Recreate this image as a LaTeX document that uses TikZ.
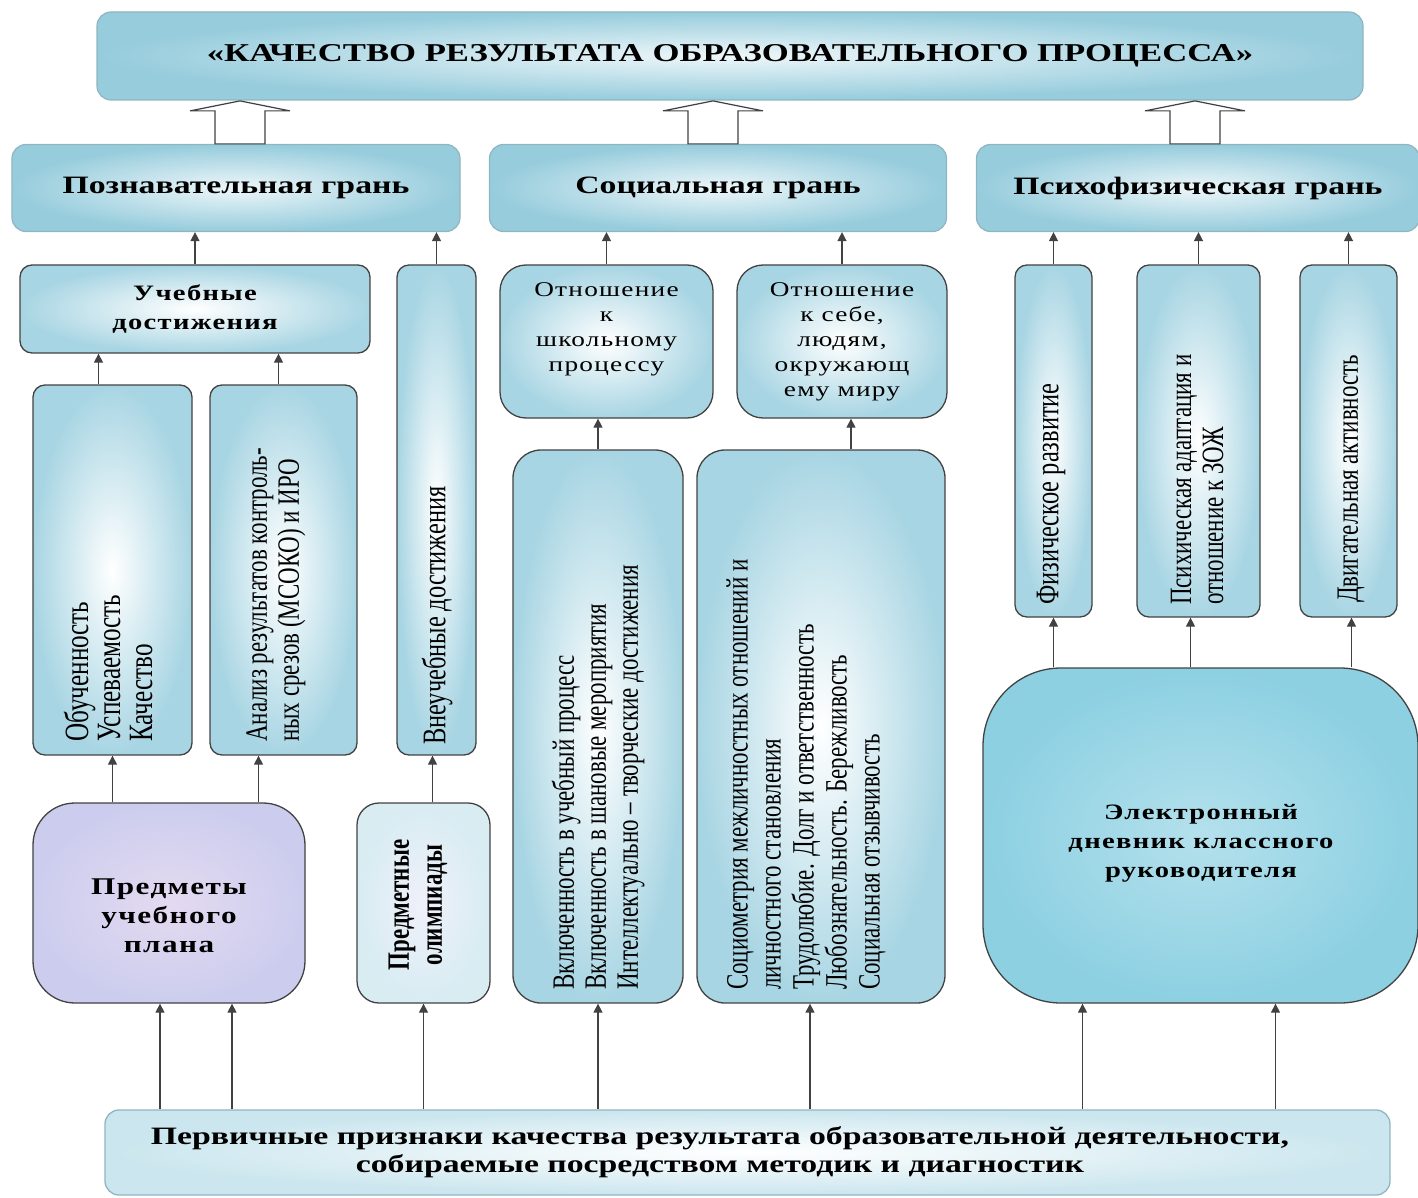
\documentclass[tikz,border=0pt]{standalone}
\usepackage{fontspec}
\setmainfont{Liberation Serif}
\newfontfamily\widerm{Liberation Serif}[FakeStretch=1.35]
\newfontfamily\spacedrm{Liberation Serif}[FakeStretch=1.3,LetterSpace=6]
\newfontfamily\narrowrm{Liberation Serif}[FakeStretch=0.74]
\usetikzlibrary{positioning, calc, arrows.meta, shadings}
\definecolor{edgeblue}{RGB}{168,213,227}
\definecolor{headblue}{RGB}{150,204,220}
\definecolor{framegray}{RGB}{66,66,66}
\definecolor{lilac}{RGB}{204,205,238}
\definecolor{pinkish}{RGB}{228,218,240}
\definecolor{drop}{RGB}{140,208,226}

\tikzset{holup/.pic={
	\draw[fill=white, draw=framegray, line width=1.2pt] (-25,0) -- (-25,-33) -- (-50,-33) -- (0,-43) -- (50,-33) -- (25,-33) -- (25,0) -- cycle;
}}

\begin{document}
\begin{tikzpicture}[x=1pt, y=-1pt,
	box/.style={draw=framegray, line width=1.3pt, rounded corners=12pt, inner color=white, outer color=edgeblue},
	head/.style={draw=headblue!70!gray, line width=1.2pt, rounded corners=14pt, inner color=white!80!edgeblue, outer color=headblue,
		font=\fontsize{25}{29}\widerm\bfseries},
	vtext/.style={rotate=90, anchor=west, align=left, inner sep=0pt, font=\fontsize{31}{32}\narrowrm},
	arr/.style={draw=framegray, line width=1.3pt, -{Triangle[length=9pt,width=9pt]}}]
	\useasboundingbox (0,0) rectangle (1418,1198);

	% top level
	\node[head, minimum width=1266pt, minimum height=88pt] (res) at (730,56) {\fontsize{25.7}{30}\selectfont «КАЧЕСТВО РЕЗУЛЬТАТА ОБРАЗОВАТЕЛЬНОГО ПРОЦЕССА»};
	\node[head, minimum width=448pt, minimum height=87pt] (pozn) at (236,188) {Познавательная грань};
	\node[head, minimum width=457pt, minimum height=87pt] (soc) at (718,188) {Социальная грань};
	\node[head, minimum width=443pt, minimum height=87pt] (psy) at (1198,188) {Психофизическая грань};
	\pic at ([xshift=4pt]pozn.north) {holup};
	\pic at ([xshift=-5pt]soc.north) {holup};
	\pic at ([xshift=-3pt]psy.north) {holup};

	% cognitive facet
	\node[box, minimum width=350pt, minimum height=88pt, align=center, font=\fontsize{22}{29}\spacedrm\bfseries] (ucheb) at (195,309) {Учебные\\достижения};
	\node[box, minimum width=79pt, minimum height=490pt] (vneuch) at (436.5,510) {};
	\node[box, minimum width=159pt, minimum height=370pt] (obuch) at (112.5,570) {};
	\node[box, minimum width=147pt, minimum height=370pt] (analiz) at (283.5,570) {};
	\node[vtext, font=\fontsize{34}{32}\narrowrm] (obuch-t) at (108,742) {Обученность\\Успеваемость\\Качество};
	\node[vtext] (analiz-t) at (276,742) {Анализ результатов контроль-\\ных срезов (МСОКО) и ИРО};
	\node[vtext, font=\fontsize{33}{32}\narrowrm] (vneuch-t) at (437,745) {Внеучебные достижения};
	\node[box, rounded corners=42pt, inner color=pinkish, outer color=lilac, minimum width=272pt, minimum height=200pt] (predm) at (169,903) {};
	\node[align=center, font=\fontsize{24}{29}\spacedrm\bfseries] (predm-t) at (169,916) {Предметы\\учебного\\плана};
	\node[box, rounded corners=22pt, inner color=white!70!lilac, outer color=white!55!edgeblue, minimum width=133pt, minimum height=200pt] (olimp) at (423.5,903) {};
	\node[vtext, anchor=center, align=center, font=\fontsize{31}{33}\narrowrm\bfseries] (olimp-t) at (418,905) {Предметные\\олимпиады};

	% social facet
	\node[box, rounded corners=26pt, minimum width=213pt, minimum height=153pt] (otnsch) at (606.5,341.5) {};
	\node[align=center, font=\fontsize{21}{25}\spacedrm] (otnsch-t) at (606.5,329) {Отношение\\к\\школьному\\процессу};
	\node[box, rounded corners=26pt, minimum width=210pt, minimum height=153pt, align=center, font=\fontsize{21}{25}\spacedrm] (otnseb) at (842,341.5) {Отношение\\к себе,\\людям,\\окружающ\\ему миру};
	\node[box, rounded corners=28pt, minimum width=170pt, minimum height=553pt] (vkl) at (598,726.5) {};
	\node[box, rounded corners=28pt, minimum width=248pt, minimum height=553pt] (sociom) at (821,726.5) {};
	\node[vtext] (vkl-t) at (598,990) {Включенность в учебный процесс\\Включенность в шановые мероприятия\\Интеллектуально – творческие достижения};
	\node[vtext, font=\fontsize{31}{33}\narrowrm] (sociom-t) at (806,990) {Социометрия межличностных отношений и\\личностного становления\\Трудолюбие. Долг и ответственность\\Любознательность. Бережливость\\Социальная отзывчивость};

	% psychophysical facet
	\node[box, minimum width=77pt, minimum height=352pt] (fiz) at (1053.5,441) {};
	\node[box, minimum width=123pt, minimum height=352pt] (psih) at (1198.5,441) {};
	\node[box, minimum width=97pt, minimum height=352pt] (dvig) at (1348.5,441) {};
	\node[vtext, font=\fontsize{33}{32}\narrowrm] (fiz-t) at (1051,605) {Физическое развитие};
	\node[vtext] (psih-t) at (1197,605) {Психическая адаптация и\\отношение к ЗОЖ};
	\node[vtext] (dvig-t) at (1351,603) {Двигательная активность};
	\node[box, rounded corners=78pt, inner color=white!35!drop, outer color=drop, minimum width=435pt, minimum height=335pt] (dnev) at (1200.5,835.5) {};
	\node[align=center, font=\fontsize{22}{29}\spacedrm\bfseries] (dnev-t) at (1201,843) {Электронный\\дневник классного\\руководителя};

	% base
	\node[box, rounded corners=14pt, draw=headblue!70!gray, inner color=white, outer color=white!40!edgeblue, minimum width=1285pt, minimum height=85pt] (base) at (747.5,1152.5) {};
	\node[align=center, font=\fontsize{25}{28}\widerm\bfseries] (base-t) at (720,1152) {Первичные признаки качества результата образовательной деятельности,\\собираемые посредством методик и диагностик};

	% arrows up to the facets
	\draw[arr] (ucheb.north) -- (ucheb.north |- pozn.south);
	\draw[arr] (vneuch.north) -- (vneuch.north |- pozn.south);
	\draw[arr] (otnsch.north) -- (otnsch.north |- soc.south);
	\draw[arr] (otnseb.north) -- (otnseb.north |- soc.south);
	\draw[arr] (fiz.north) -- (fiz.north |- psy.south);
	\draw[arr] (psih.north) -- (psih.north |- psy.south);
	\draw[arr] (dvig.north) -- (dvig.north |- psy.south);
	% inner arrows
	\draw[arr] ([xshift=-14pt]obuch.north) -- ([xshift=-14pt]obuch.north |- ucheb.south);
	\draw[arr] ([xshift=-5pt]analiz.north) -- ([xshift=-5pt]analiz.north |- ucheb.south);
	\draw[arr] (vkl.north) -- (vkl.north |- otnsch.south);
	\draw[arr] ([xshift=30pt]sociom.north) -- ([xshift=30pt]sociom.north |- otnseb.south);
	\draw[arr] (obuch.south |- predm.north) -- (obuch.south);
	\draw[arr] ([xshift=-25pt]analiz.south |- predm.north) -- ([xshift=-25pt]analiz.south);
	\draw[arr] ([xshift=-4pt]vneuch.south |- olimp.north) -- ([xshift=-4pt]vneuch.south);
	\draw[arr] (fiz.south |- dnev.north) -- (fiz.south);
	\draw[arr] ([xshift=-8pt]psih.south |- dnev.north) -- ([xshift=-8pt]psih.south);
	\draw[arr] ([xshift=3pt]dvig.south |- dnev.north) -- ([xshift=3pt]dvig.south);
	% arrows from the base
	\draw[arr] ([xshift=-9pt]predm.south |- base.north) -- ([xshift=-9pt]predm.south);
	\draw[arr] ([xshift=63pt]predm.south |- base.north) -- ([xshift=63pt]predm.south);
	\draw[arr] (olimp.south |- base.north) -- (olimp.south);
	\draw[arr] (vkl.south |- base.north) -- (vkl.south);
	\draw[arr] ([xshift=-11pt]sociom.south |- base.north) -- ([xshift=-11pt]sociom.south);
	\draw[arr] ([xshift=-118pt]dnev.south |- base.north) -- ([xshift=-118pt]dnev.south);
	\draw[arr] ([xshift=75pt]dnev.south |- base.north) -- ([xshift=75pt]dnev.south);
\end{tikzpicture}
\end{document}
